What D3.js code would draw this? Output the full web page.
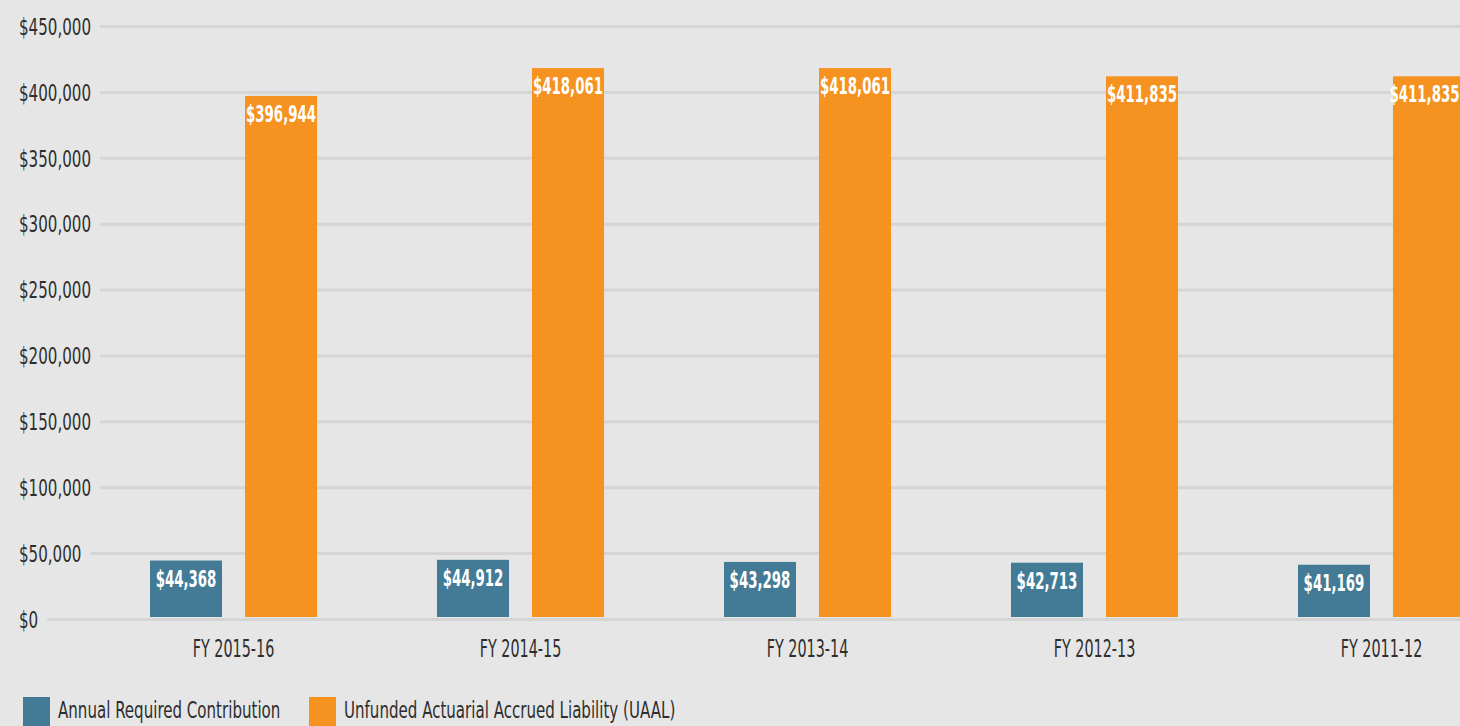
<!DOCTYPE html>
<html>
<head>
<meta charset="utf-8">
<script src="https://cdn.jsdelivr.net/npm/d3@7"></script>
<style>
  html, body { margin: 0; padding: 0; background: #e6e6e6; overflow: hidden; }
  svg { display: block; }
  text { font-family: "DejaVu Sans Condensed", "DejaVu Sans", sans-serif; font-stretch: condensed; }
</style>
</head>
<body>
<svg id="chart" width="1460" height="726"></svg>
<script>
const categories = ["FY 2015-16", "FY 2014-15", "FY 2013-14", "FY 2012-13", "FY 2011-12"];
const seriesNames = ["Annual Required Contribution", "Unfunded Actuarial Accrued Liability (UAAL)"];
const arcValues = [44368, 44912, 43298, 42713, 41169];
const uaalValues = [396944, 418061, 418061, 411835, 411835];
const yTicks = [0, 50000, 100000, 150000, 200000, 250000, 300000, 350000, 400000, 450000];
const colors = ["#437b96", "#f59220"];

const W = 1460, H = 726;
const svg = d3.select("#chart");
svg.append("rect").attr("width", W).attr("height", H).attr("fill", "#e6e6e6");

const y = d3.scaleLinear().domain([0, 450000]).range([619, 26]);
const x0 = d3.scaleBand().domain(categories).range([150, 1465]).paddingInner(0.418).paddingOuter(0);
const x1 = d3.scaleBand().domain(seriesNames).range([0, x0.bandwidth()]).paddingInner(0.242).paddingOuter(0);
const fmt = v => "$" + d3.format(",")(v);

const TICK_SX = 0.73, VAL_SX = 0.645, CAT_SX = 0.665, LEG_SX = 0.728;

// y axis with gridlines
const yAxis = svg.append("g").attr("class", "y-axis")
  .call(d3.axisLeft(y).tickValues(yTicks).tickFormat(fmt).tickSize(0));
yAxis.select(".domain").remove();
yAxis.selectAll(".tick text")
  .attr("x", 0).attr("text-anchor", "start")
  .attr("dy", "0.36em")
  .attr("transform", `translate(19,0) scale(${TICK_SX},1)`)
  .attr("fill", "#2e2e2e")
  .style("font-size", "23px")
  .style("font-family", null);
yAxis.selectAll(".tick").each(function () {
  const g = d3.select(this);
  const t = g.select("text").node();
  const end = 19 + t.getComputedTextLength() * TICK_SX;
  g.insert("line", "text")
    .attr("x1", end + 9).attr("x2", W)
    .attr("y1", 0).attr("y2", 0)
    .attr("stroke", "#d5d5d5").attr("stroke-width", 3);
});

// bars
const data = categories.map((c, i) => ({ cat: c, vals: [arcValues[i], uaalValues[i]] }));
const groups = svg.append("g").selectAll("g").data(data).join("g")
  .attr("transform", d => `translate(${x0(d.cat)},0)`);

const items = d => d.vals.map((v, j) => ({ v, s: seriesNames[j], j, gx: x0(d.cat) }));

groups.selectAll("rect").data(items)
  .join("rect")
  .attr("x", d => x1(d.s))
  .attr("width", x1.bandwidth())
  .attr("y", d => y(d.v))
  .attr("height", d => y(0) - 2 - y(d.v))
  .attr("fill", d => colors[d.j]);

// value labels centred on the visible part of each bar
groups.selectAll("text.val").data(items)
  .join("text").attr("class", "val")
  .attr("transform", d => {
    const left = x1(d.s);
    const right = Math.min(left + x1.bandwidth(), W - d.gx - 4);
    return `translate(${(left + right) / 2},${y(d.v) + 26}) scale(${VAL_SX},1)`;
  })
  .attr("text-anchor", "middle")
  .attr("fill", "#ffffff")
  .style("font-size", "23px")
  .style("font-weight", "bold")
  .text(d => fmt(d.v));

// category labels
svg.append("g").selectAll("text").data(categories).join("text")
  .attr("transform", d => `translate(${x0(d) + x0.bandwidth() / 2},657) scale(${CAT_SX},1)`)
  .attr("text-anchor", "middle")
  .attr("fill", "#2e2e2e")
  .style("font-size", "24px")
  .text(d => d);

// legend
const legendX = [23, 309];
const legend = svg.append("g").selectAll("g").data(seriesNames).join("g")
  .attr("transform", (d, i) => `translate(${legendX[i]},697)`);
legend.append("rect").attr("width", 27).attr("height", 29).attr("fill", (d, i) => colors[i]);
legend.append("text")
  .attr("transform", `translate(35,21) scale(${LEG_SX},1)`)
  .attr("fill", "#2e2e2e").style("font-size", "23px").text(d => d);
</script>
</body>
</html>
